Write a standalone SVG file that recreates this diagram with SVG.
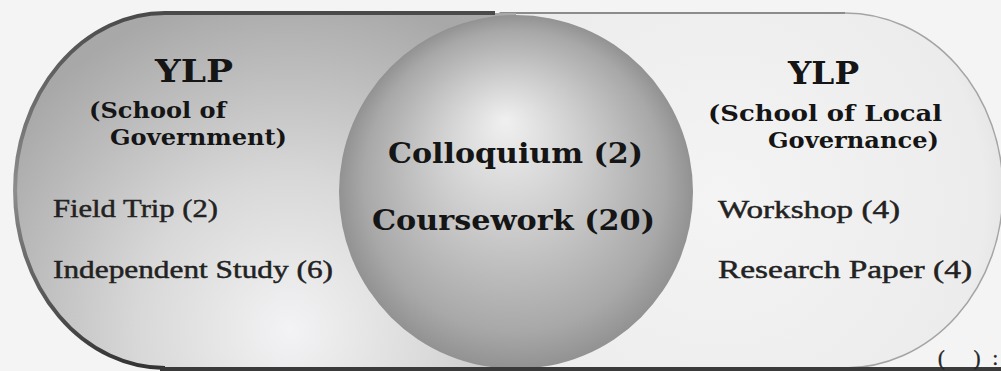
<svg xmlns="http://www.w3.org/2000/svg" width="1001" height="371" viewBox="0 0 1001 371">
  <defs>
    <radialGradient id="gLeft" gradientUnits="userSpaceOnUse" cx="290" cy="330" r="340">
      <stop offset="0" stop-color="#f3f3f5"/>
      <stop offset="0.45" stop-color="#d8d8d8"/>
      <stop offset="1" stop-color="#a8a8a8"/>
    </radialGradient>
    <radialGradient id="gRight" gradientUnits="userSpaceOnUse" cx="720" cy="200" r="330">
      <stop offset="0" stop-color="#f4f4f4"/>
      <stop offset="0.8" stop-color="#ececec"/>
      <stop offset="1" stop-color="#d8d8d8"/>
    </radialGradient>
    <radialGradient id="gCircle" gradientUnits="userSpaceOnUse" cx="516" cy="192" r="177" fx="505" fy="120">
      <stop offset="0" stop-color="#f0f0f0"/>
      <stop offset="0.45" stop-color="#cbcbcb"/>
      <stop offset="0.85" stop-color="#a8a8a8"/>
      <stop offset="1" stop-color="#929292"/>
    </radialGradient>
    <linearGradient id="gEdge" x1="0" y1="0" x2="0" y2="1">
      <stop offset="0" stop-color="#4a4a4a"/>
      <stop offset="0.5" stop-color="#8e8e8e"/>
      <stop offset="1" stop-color="#333333"/>
    </linearGradient>
  </defs>
  <style>
    .title{font-family:"DejaVu Serif","Liberation Serif",serif;font-weight:bold;fill:#151515}
    .item{font-family:"Liberation Serif","DejaVu Serif",serif;fill:#222;stroke:#222;stroke-width:0.45}
  </style>
  <rect x="0" y="0" width="1001" height="371" fill="#f4f4f4"/>

  <g id="right-node">
    <path d="M 500,13 L 845,13 A 158,177.5 0 0 1 845,368 L 500,368 Z" fill="url(#gRight)" stroke="#a4a4a4" stroke-width="1.5"/>
    <path d="M 500,13 L 845,13" fill="none" stroke="#8c8c8c" stroke-width="2"/>
  </g>

  <g id="left-node">
    <path d="M 516,13 L 165,13 A 150,177.5 0 0 0 165,368 L 516,368 Z" fill="url(#gLeft)"/>
    <path d="M 495,13 L 165,13 A 150,177.5 0 0 0 165,368" fill="none" stroke="url(#gEdge)" stroke-width="4"/>
  </g>

  <g id="center-node">
    <circle cx="516" cy="192" r="177" fill="url(#gCircle)"/>
  </g>

  <g id="connectors"></g>

  <rect x="160" y="367" width="841" height="4" fill="#3a3a3a"/>

  <g id="left-texts">
    <text class="title" x="155" y="82" font-size="32" textLength="78" lengthAdjust="spacingAndGlyphs">YLP</text>
    <text class="title" x="89" y="118" font-size="22" textLength="137" lengthAdjust="spacingAndGlyphs">(School of</text>
    <text class="title" x="110" y="145" font-size="22" textLength="177" lengthAdjust="spacingAndGlyphs">Government)</text>
    <text class="item" x="53" y="217" font-size="25" textLength="165" lengthAdjust="spacingAndGlyphs">Field Trip (2)</text>
    <text class="item" x="53" y="278" font-size="25" textLength="280" lengthAdjust="spacingAndGlyphs">Independent Study (6)</text>
  </g>

  <g id="center-texts">
    <text class="title" x="388" y="163" font-size="27" textLength="255" lengthAdjust="spacingAndGlyphs">Colloquium (2)</text>
    <text class="title" x="372" y="230" font-size="27" textLength="283" lengthAdjust="spacingAndGlyphs">Coursework (20)</text>
  </g>

  <g id="right-texts">
    <text class="title" x="788" y="84" font-size="32" textLength="71" lengthAdjust="spacingAndGlyphs">YLP</text>
    <text class="title" x="708" y="121" font-size="22" textLength="234" lengthAdjust="spacingAndGlyphs">(School of Local</text>
    <text class="title" x="768" y="148" font-size="22" textLength="171" lengthAdjust="spacingAndGlyphs">Governance)</text>
    <text class="item" x="718" y="218" font-size="25" textLength="182" lengthAdjust="spacingAndGlyphs">Workshop (4)</text>
    <text class="item" x="718" y="278" font-size="25" textLength="254" lengthAdjust="spacingAndGlyphs">Research Paper (4)</text>
  </g>

  <text class="item" x="938" y="365" font-size="20" textLength="60" lengthAdjust="spacing">( ):</text>
</svg>
